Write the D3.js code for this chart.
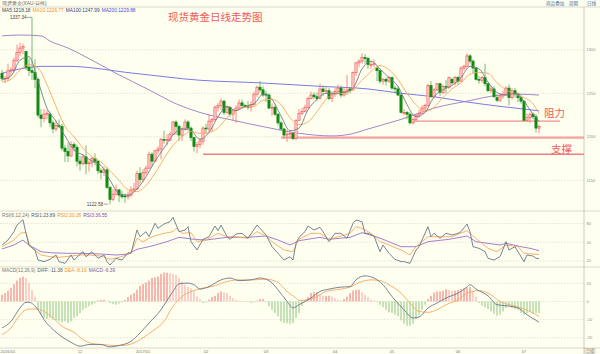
<!DOCTYPE html>
<html>
<head>
<meta charset="utf-8">
<script src="https://cdn.jsdelivr.net/npm/d3@7"></script>
<style>
  html, body { margin: 0; padding: 0; background: #fffff0; }
  svg { display: block; font-family: "Liberation Sans", Arial, sans-serif; }
</style>
</head>
<body>
<svg id="chart" width="600" height="354"></svg>
<script>
// daily candles, 2016-10-26 .. 2017-07-10 (index = trading day)
const openP = [1273,1267,1267,1276,1277,1288,1297,1302,1298,1280,1276,1274,1266,1225,1221,1226,1226,1216,1209,1213,
  1212,1187,1183,1178,1191,1188,1172,1169,1177,1169,1170,1175,1172,1161,1159,1162,1142,1128,1134,1139,
  1133,1132,1131,1133,1139,1140,1158,1151,1159,1164,1180,1172,1184,1186,1197,1196,1196,1203,1217,1212,
  1202,1209,1217,1210,1199,1189,1191,1195,1210,1209,1218,1220,1234,1236,1241,1228,1234,1226,1230,1233,
  1239,1236,1235,1234,1237,1249,1257,1254,1249,1248,1233,1234,1226,1216,1209,1202,1203,1204,1198,1219,
  1227,1229,1234,1244,1248,1246,1244,1255,1252,1253,1244,1249,1252,1256,1248,1252,1255,1254,1274,1285,
  1287,1291,1290,1283,1283,1279,1276,1264,1266,1264,1268,1256,1255,1248,1228,1228,1226,1216,1220,1225,
  1227,1233,1236,1259,1246,1254,1261,1251,1258,1257,1266,1262,1268,1264,1279,1281,1293,1287,1279,1266,
  1265,1268,1261,1253,1255,1245,1242,1247,1249,1256,1245,1253,1249,1245,1241,1219,1222,1226,1223,1210];
const highP = [1277,1270,1284,1280,1291,1306,1308,1307,1299,1290,1337.34,1289,1268,1232,1232,1231,1229,1219,1219,1220,
  1215,1191,1193,1195,1194,1191,1178,1180,1190,1173,1177,1181,1173,1164,1166,1165,1143,1140,1145,1140,
  1138,1135,1137,1143,1147,1161,1165,1163,1167,1183,1182,1185,1189,1199,1207,1203,1206,1218,1219,1214,
  1211,1220,1219,1212,1200,1194,1199,1212,1215,1226,1222,1236,1239,1244,1242,1236,1235,1232,1236,1243,
  1243,1238,1241,1241,1252,1259,1264,1258,1253,1250,1238,1237,1227,1218,1210,1208,1206,1205,1220,1232,
  1233,1237,1246,1252,1251,1251,1261,1259,1257,1256,1252,1256,1260,1259,1257,1271,1257,1275,1286,1289,
  1296,1295,1292,1287,1289,1280,1277,1268,1268,1270,1269,1259,1258,1249,1232,1230,1228,1222,1226,1231,
  1236,1238,1261,1264,1256,1262,1262,1260,1265,1269,1268,1270,1270,1281,1283,1296,1295,1289,1280,1270,
  1270,1284,1262,1258,1258,1249,1250,1253,1258,1260,1256,1256,1251,1248,1242,1227,1228,1228,1226,1214];
const lowP = [1264,1262,1264,1270,1274,1286,1293,1295,1277,1270,1265,1256,1222,1211,1217,1220,1211,1204,1206,1210,
  1184,1171,1171,1177,1183,1166,1161,1167,1157,1160,1165,1167,1157,1151,1155,1140,1122.58,1126,1133,1125,
  1129,1124,1128,1131,1136,1139,1145,1148,1156,1163,1166,1171,1180,1174,1192,1190,1195,1202,1202,1195,
  1195,1207,1209,1195,1183,1181,1187,1191,1203,1206,1206,1218,1229,1231,1225,1226,1223,1219,1216,1232,
  1233,1233,1231,1229,1236,1246,1251,1246,1240,1232,1224,1224,1213,1208,1199,1194,1199,1196,1196,1218,
  1225,1228,1232,1243,1243,1241,1243,1247,1249,1242,1240,1246,1251,1245,1246,1248,1250,1253,1270,1280,
  1284,1284,1278,1278,1280,1264,1261,1260,1259,1262,1254,1250,1247,1227,1225,1220,1214,1214,1218,1222,
  1226,1228,1235,1245,1244,1252,1247,1249,1250,1255,1260,1259,1260,1263,1276,1280,1284,1273,1265,1261,
  1262,1258,1251,1250,1245,1240,1240,1244,1247,1236,1243,1245,1240,1238,1218,1218,1216,1220,1205,1204];
const closeP = [1267,1267,1276,1277,1288,1297,1302,1304,1280,1276,1274,1266,1225,1221,1226,1227,1216,1209,1213,1212,
  1187,1183,1178,1191,1188,1172,1169,1177,1169,1170,1175,1172,1161,1159,1162,1142,1128,1134,1139,1133,
  1131,1131,1133,1139,1140,1158,1151,1159,1164,1180,1172,1184,1186,1197,1196,1197,1203,1217,1212,1202,
  1209,1217,1210,1199,1189,1191,1195,1210,1209,1218,1220,1234,1236,1241,1228,1234,1226,1230,1233,1239,
  1236,1235,1234,1237,1249,1257,1254,1248,1248,1233,1234,1226,1216,1209,1202,1203,1204,1198,1219,1227,
  1229,1234,1244,1248,1246,1244,1255,1252,1253,1244,1249,1252,1256,1248,1252,1254,1253,1274,1285,1287,
  1291,1290,1283,1283,1284,1276,1264,1266,1264,1268,1256,1255,1248,1228,1228,1226,1216,1220,1225,1227,
  1233,1236,1259,1246,1254,1261,1251,1258,1257,1268,1262,1268,1264,1279,1281,1293,1287,1279,1266,1265,
  1268,1261,1253,1255,1246,1242,1247,1249,1256,1245,1253,1249,1245,1241,1219,1222,1226,1223,1210,1212];

// moving averages: [day index, price]
const ma5 = [[0,1266],[3,1270],[6,1288],[9,1292],[12,1264],[15,1233],[18,1218],[21,1201],[24,1185],[27,1179],
  [30,1172],[33,1167],[36,1150],[39,1135],[42,1133],[45,1140],[48,1154],[51,1172],[54,1187],[57,1202],
  [60,1209],[63,1207],[66,1197],[69,1205],[72,1223],[75,1235],[78,1230],[81,1235],[84,1238],[87,1249],
  [90,1243],[93,1224],[96,1207],[99,1210],[102,1231],[105,1243],[108,1250],[111,1250],[114,1251],[117,1256],
  [120,1278],[123,1287],[126,1278],[129,1268],[132,1258],[135,1237],[138,1223],[141,1228],[144,1246],[147,1254],
  [150,1259],[153,1268],[156,1281],[159,1278],[162,1263],[165,1251],[168,1248],[171,1250],[174,1241],[177,1226],[179,1218.18]];
const ma10 = [[0,1263],[3,1266],[6,1277],[9,1283],[12,1279],[15,1260],[18,1235],[21,1212],[24,1200],[27,1187],
  [30,1177],[33,1171],[36,1161],[39,1150],[42,1139],[45,1137],[48,1144],[51,1158],[54,1175],[57,1190],
  [60,1200],[63,1206],[66,1204],[69,1205],[72,1210],[75,1222],[78,1230],[81,1234],[84,1235],[87,1242],
  [90,1243],[93,1237],[96,1222],[99,1214],[102,1217],[105,1229],[108,1243],[111,1249],[114,1250],[117,1254],
  [120,1265],[123,1275],[126,1282],[129,1277],[132,1266],[135,1250],[138,1237],[141,1229],[144,1234],[147,1245],
  [150,1255],[153,1262],[156,1272],[159,1274],[162,1273],[165,1262],[168,1254],[171,1249],[174,1245],[177,1238],[179,1226.77]];
const ma100 = [[0,1316],[6,1317],[13,1316],[16,1310],[22,1302],[30,1288],[38,1273],[49,1254],[58,1238],[66,1228],
  [77,1219],[88,1211],[99,1204],[110,1201],[116,1203],[122,1209],[133,1220],[144,1233],[155,1241],[166,1248],[172,1249],[179,1247.99]];
const ma200 = [[0,1273],[6,1278],[13,1281],[22,1281],[44,1273],[66,1265],[86,1262],[106,1258],[122,1255],
  [133,1250],[144,1246],[155,1240],[166,1235],[179,1229.88]];

// RSI(6,12,24): [day index, value]
const rsi1 = [[0,45.6],[2,53.6],[4,67],[5,77.6],[7,86],[8,64],[9,45],[11,37.6],[12,21.6],[14,19],[16,22.7],[18,29.6],
  [19,19],[21,16.3],[23,29.6],[24,21.6],[27,34.9],[28,26.9],[30,34.9],[32,24.3],[34,29.6],[35,19],[36,13.6],[38,24.3],
  [40,21.6],[42,33.3],[43,32.3],[45,69.6],[46,58.9],[48,66.9],[49,58.9],[51,80.3],[52,72.3],[54,79.2],[56,82.9],[57,89.9],
  [59,66.9],[61,69.6],[62,74.9],[63,50.9],[65,37.6],[67,54.7],[69,58.9],[71,76],[72,68.5],[73,77.6],[75,58.9],[76,54.7],
  [78,63.2],[80,64.3],[82,56.3],[85,77.6],[86,72.3],[88,61.6],[90,42.9],[92,32.3],[94,21.6],[96,26.9],[97,21.6],[98,48.3],
  [99,58],[101,67],[102,76],[104,69.6],[106,73.9],[107,67],[109,50.9],[111,64.3],[113,64.3],[115,56.3],[117,80.3],[118,85.6],
  [120,82.9],[121,64.3],[122,64.3],[124,60],[126,34.9],[127,45.6],[129,32.3],[131,22.7],[133,19],[134,19],[136,16.3],[138,37.6],
  [139,42.9],[142,74.9],[143,58.9],[144,64.3],[146,56.3],[148,64.3],[150,61.6],[152,64.3],[153,67],[155,79.2],[156,67],[157,42.9],
  [159,40.3],[161,34.9],[162,24.3],[164,21.6],[166,26.9],[168,50.9],[169,37.6],[171,42.9],[174,19],[175,29.6],[177,28],[178,24.3],[179,23.89]];
const rsi2 = [[0,42.9],[4,53.6],[6,64.3],[8,66],[9,48.3],[10,40.3],[13,29.6],[16,26.9],[19,25.9],[23,28],[26,29.6],[29,29.6],
  [33,28],[36,22.7],[39,25.9],[43,32.3],[45,56.3],[47,50.9],[50,58.9],[54,64.3],[57,67],[58,72.3],[60,64.3],[63,65.3],
  [65,50.9],[68,53.6],[72,64.3],[75,58.9],[78,58.9],[82,56.3],[85,67],[88,60],[90,50.9],[94,37.6],[97,34.9],[99,55],
  [103,64.3],[106,64.3],[109,54.7],[113,60],[116,64.3],[118,74.9],[120,72.3],[123,64.3],[126,50.9],[129,45.6],[133,37.6],
  [136,29.6],[138,42.9],[142,58.9],[146,58.9],[150,58.9],[155,68.5],[158,56.3],[162,40.3],[165,34.9],[168,45.6],[172,42.9],
  [174,32.3],[179,30.36]];
const rsi3 = [[0,39.2],[4,45.6],[7,53.6],[8,49.3],[10,42.9],[13,34.9],[16,33.3],[22,32.3],[27,32.3],[33,31.2],[38,29.6],
  [42,31.2],[45,38.7],[49,42.9],[55,50.9],[59,57.9],[64,54.7],[68,53.6],[75,57.9],[82,57.9],[88,60],[92,53.6],[96,45.6],
  [99,52.5],[106,57.9],[109,54.7],[116,57.9],[120,65.3],[124,60],[127,54.7],[133,42.9],[138,42.9],[142,50.9],[149,54.7],
  [155,60],[158,50.9],[166,45.6],[168,48.3],[173,42.9],[176,40.3],[179,36.55]];

// MACD(12,26,9)
const diffLine = [[0,-14.6],[3,-11],[6,-3.6],[8,-0.5],[9,-0.5],[12,-4.6],[14,-10],[17,-15.5],[19,-18.3],[23,-22.5],[26,-24.7],
  [29,-23.8],[33,-23.8],[36,-25.1],[39,-24.3],[43,-22],[46,-17.4],[49,-11.9],[53,-4.6],[55,0.5],[57,5.5],[59,9.7],[62,10.1],
  [64,9.2],[66,6.8],[69,8.2],[73,11.9],[76,12.9],[79,11.5],[83,11.9],[86,12.9],[89,11.5],[92,6.4],[95,0],[97,-3.6],[99,-1.8],
  [103,1.9],[106,5.5],[109,6.8],[113,7.9],[116,8.2],[118,11.9],[121,14.1],[124,12.9],[127,9.2],[130,2.7],[134,-4.6],[137,-9.1],
  [139,-8.6],[142,-3.6],[145,-0.9],[148,1.9],[152,4.6],[155,7.9],[156,9.2],[158,6.8],[162,3.1],[165,-1.8],[168,-2.4],[172,-3.6],
  [175,-7.3],[179,-11.38]];
const deaLine = [[0,-18.3],[3,-14.6],[6,-7.3],[9,-4.2],[12,-4.2],[14,-5.5],[17,-9.1],[20,-13.7],[24,-17],[27,-21],[30,-23.2],
  [34,-23.8],[37,-24.3],[40,-24.3],[44,-22.9],[47,-20.1],[50,-16.5],[54,-11],[57,-2.7],[60,2.7],[64,6],[67,7.4],[70,8.2],[75,11],
  [79,11.9],[84,11.9],[88,12.3],[92,10.4],[95,5.5],[98,1.9],[99,0.5],[104,1.9],[108,5.5],[113,6.8],[116,7.9],[119,10.4],[123,11.9],
  [126,11.5],[129,9.2],[133,4.6],[136,-0.9],[139,-5.5],[142,-6],[145,-4.6],[148,-1.8],[152,0.9],[155,4.6],[157,5.5],[159,6],
  [163,3.7],[166,0],[169,-1.8],[173,-3.6],[176,-5.5],[179,-8.19]];
const macdHist = [3.7,4.6,6.0,7.5,9.5,11.5,13.0,13.7,12.9,10.1,6.4,2.7,-4.6,-7.3,-9.1,-9.7,-9.1,-10.0,-10.4,-11.0,
  -11.5,-11.0,-11.9,-11.0,-9.1,-8.2,-6.4,-4.6,-3.6,-2.7,-1.8,-0.9,0.5,0.9,0.9,0.3,-0.9,-1.5,-1.8,-1.2,
  -0.5,0.8,2.4,3.7,4.6,6.4,8.6,9.7,10.4,11.5,12.9,13.3,13.7,15.2,15.9,15.9,15.6,15.2,14.6,12.9,
  11.0,9.2,8.0,7.3,5.5,2.7,1.3,-0.9,-0.5,1.0,2.4,3.1,4.6,5.5,5.0,4.6,3.1,1.8,0.9,0.5,
  0.3,0.2,-0.3,-0.9,-0.5,0.5,1.3,1.3,-0.5,-2.7,-4.6,-6.4,-8.2,-11.0,-11.9,-12.1,-12.3,-11.9,-9.1,-6.4,
  -2.5,0.5,2.4,4.6,5.1,5.1,3.7,3.1,3.1,3.1,2.7,1.8,0.9,0.5,1.3,2.7,4.6,6.0,6.4,6.4,
  5.0,3.7,2.4,0.9,0.5,-0.5,-1.8,-3.1,-4.6,-6.0,-6.4,-7.3,-8.2,-10.4,-12.3,-13.4,-13.4,-12.3,-9.7,-7.3,
  -4.6,-1.8,1.3,3.1,4.9,5.5,5.5,6.0,6.8,6.4,6.0,6.0,6.4,6.8,7.3,7.3,7.9,5.5,2.7,-0.9,
  -2.4,-3.3,-4.2,-5.5,-6.8,-7.9,-7.3,-5.5,-3.6,-2.7,-3.6,-4.2,-4.6,-6.4,-7.3,-6.4,-6.0,-6.8,-6.4,-6.39];

// axis ticks
const monthIdx = [0,26,47,68,88,111,130,152,174];
const monthLabels = ["2016/10","12","2017/01","02","03","04","05","06","07"];
const priceTicks = [1150,1200,1250,1300];
const rsiTicks = [20,50,80];
const macdTicks = [-20,-10,0,10];

// hand-drawn levels: price, first day, last day
const levelPrice = [1218, 1199, 1180];
const levelFrom = [137, 93, 67];
const levelTo = [186, 194, 195.3];

const svg = d3.select("#chart");
const W = 600, H = 354, plotR = 584;

svg.append("rect").attr("width", W).attr("height", H).attr("fill", "#fffff0");

const x = d3.scaleLinear().domain([0, 179]).range([2, 539]);
const yP = d3.scaleLinear().domain([1150, 1300]).range([180.3, 49.8]);
const yR = d3.scaleLinear().domain([20, 80]).range([261, 223.5]);
const yM = d3.scaleLinear().domain([-20, 10]).range([337.7, 283.3]);

// grid
function grid(ticks, scale, label) {
  ticks.forEach(t => {
    svg.append("line").attr("x1", 0).attr("x2", plotR)
      .attr("y1", scale(t)).attr("y2", scale(t))
      .attr("stroke", "#d8d8cc").attr("stroke-width", 0.7).attr("stroke-dasharray", "1.5,1.5");
    svg.append("text").attr("x", plotR + 2.5).attr("y", scale(t) + 1.4)
      .attr("font-size", 4).attr("fill", "#8a8a8a").text(label ? label(t) : t);
  });
}
grid(priceTicks, yP);
grid(rsiTicks, yR);
grid(macdTicks, yM);

// frame
[7, 211, 267, 348].forEach(yy => {
  svg.append("line").attr("x1", 0).attr("x2", W).attr("y1", yy).attr("y2", yy)
    .attr("stroke", "#cfcfc4").attr("stroke-width", 0.8);
});
svg.append("line").attr("x1", plotR).attr("x2", plotR).attr("y1", 7).attr("y2", H)
  .attr("stroke", "#bdbdb4").attr("stroke-width", 0.8);

// clip for price panel
svg.append("clipPath").attr("id", "pclip").append("rect")
  .attr("x", 0).attr("y", 7).attr("width", plotR).attr("height", 204);
const gP = svg.append("g").attr("clip-path", "url(#pclip)");

// level lines
const levelColor = ["#f28c8c", "#f5a4a4", "#f08080"];
const levelWidth = [1.4, 2.2, 1.5];
levelPrice.forEach((p, k) => {
  gP.append("line").attr("x1", x(levelFrom[k])).attr("x2", x(levelTo[k]))
    .attr("y1", yP(p)).attr("y2", yP(p))
    .attr("stroke", levelColor[k]).attr("stroke-width", levelWidth[k]);
});

// moving averages
const lineP = d3.line().x(d => x(d[0])).y(d => yP(d[1]));
const lineSmooth = d3.line().x(d => x(d[0])).y(d => yP(d[1])).curve(d3.curveMonotoneX);
gP.append("path").attr("d", lineSmooth(ma200)).attr("fill", "none").attr("stroke", "#6a6ae6").attr("stroke-width", 0.9);
gP.append("path").attr("d", lineSmooth(ma100)).attr("fill", "none").attr("stroke", "#9a78c4").attr("stroke-width", 0.9);

// candles
closeP.forEach((c, i) => {
  const o = openP[i], up = c >= o;
  gP.append("line").attr("x1", x(i)).attr("x2", x(i))
    .attr("y1", yP(highP[i])).attr("y2", yP(lowP[i]))
    .attr("stroke", up ? "#f36f6f" : "#58a858").attr("stroke-width", 0.8);
  const top = yP(Math.max(o, c)), h = Math.max(0.7, Math.abs(yP(o) - yP(c)));
  gP.append("rect").attr("x", x(i) - 1.1).attr("y", top).attr("width", 2.2).attr("height", h)
    .attr("fill", up ? "#ffd6d6" : "#128a12")
    .attr("stroke", up ? "#f25a5a" : "#128a12").attr("stroke-width", 0.7);
});

gP.append("path").attr("d", d3.line().x(d => x(d[0])).y(d => yP(d[1])).curve(d3.curveMonotoneX)(ma10))
  .attr("fill", "none").attr("stroke", "#f6a860").attr("stroke-width", 0.9);
gP.append("path").attr("d", d3.line().x(d => x(d[0])).y(d => yP(d[1])).curve(d3.curveMonotoneX)(ma5))
  .attr("fill", "none").attr("stroke", "#6e7a86").attr("stroke-width", 0.9);

// high / low marks
const hiI = highP.indexOf(d3.max(highP)), loI = lowP.indexOf(d3.min(lowP));
svg.append("text").attr("x", x(hiI) - 5.5).attr("y", yP(highP[hiI]) + 1.5).attr("text-anchor", "end")
  .attr("font-size", 4.6).attr("fill", "#444").text(d3.format(".2f")(highP[hiI]));
svg.append("line").attr("x1", x(hiI) - 5).attr("x2", x(hiI)).attr("y1", yP(highP[hiI]))
  .attr("y2", yP(highP[hiI])).attr("stroke", "#666").attr("stroke-width", 0.6);
svg.append("text").attr("x", x(loI) - 7).attr("y", yP(lowP[loI]) + 1.5).attr("text-anchor", "end")
  .attr("font-size", 4.6).attr("fill", "#444").text(d3.format(".2f")(lowP[loI]));
svg.append("line").attr("x1", x(loI) - 6.5).attr("x2", x(loI) - 2).attr("y1", yP(lowP[loI]))
  .attr("y2", yP(lowP[loI])).attr("stroke", "#666").attr("stroke-width", 0.6);

// RSI panel
const lineR = d3.line().x(d => x(d[0])).y(d => yR(d[1]));
[[rsi3, "#9a70c8"], [rsi2, "#f6a860"], [rsi1, "#66788a"]].forEach(([s, col]) => {
  svg.append("path").attr("d", lineR(s)).attr("fill", "none").attr("stroke", col).attr("stroke-width", 0.9);
});

// MACD panel
macdHist.forEach((v, i) => {
  const prev = i > 0 ? macdHist[i - 1] : v;
  const col = v >= 0 ? (v >= prev ? "#f06c6c" : "#f5a2a2") : "#8cc47e";
  svg.append("line").attr("x1", x(i)).attr("x2", x(i)).attr("y1", yM(0)).attr("y2", yM(v))
    .attr("stroke", col).attr("stroke-width", 1);
});
const lineM = d3.line().x(d => x(d[0])).y(d => yM(d[1])).curve(d3.curveMonotoneX);
svg.append("path").attr("d", lineM(deaLine)).attr("fill", "none").attr("stroke", "#f6a860").attr("stroke-width", 0.9);
svg.append("path").attr("d", lineM(diffLine)).attr("fill", "none").attr("stroke", "#66788a").attr("stroke-width", 0.9);

// month labels
monthIdx.forEach((m, k) => {
  svg.append("text").attr("x", k === 0 ? 0.5 : x(m)).attr("y", 352.5)
    .attr("text-anchor", k === 0 ? "start" : "middle")
    .attr("font-size", 4).attr("fill", "#777").text(monthLabels[k]);
});

// legends
function legend(y, items) {
  let cx = 2;
  items.forEach(([t, col]) => {
    const el = svg.append("text").attr("x", cx).attr("y", y).attr("font-size", 4.8).attr("fill", col).text(t);
    cx += el.node().getComputedTextLength() + 2;
  });
}
legend(4.5, [["现货黄金(XAU-日线)", "#666"]]);
legend(12, [["MA5:1218.18", "#444"], ["MA10:1226.77", "#f0902e"], ["MA100:1247.99", "#3a3a78"], ["MA200:1229.88", "#4a4ad8"]]);
legend(216.5, [["RSI(6,12,24)", "#777"], ["RSI1:23.89", "#4e5e70"], ["RSI2:30.36", "#f0902e"], ["RSI3:36.55", "#7a4ab0"]]);
legend(272, [["MACD(12,26,9)", "#777"], ["DIFF:-11.38", "#4e5e70"], ["DEA:-8.19", "#f0902e"], ["MACD:-6.39", "#7a5a98"]]);

// top-right buttons
[["商品叠加", 546], ["周期", 569], ["日线", 587]].forEach(([t, bx]) => {
  svg.append("text").attr("x", bx).attr("y", 4.8).attr("font-size", 4.6)
    .attr("font-family", "Noto Sans CJK SC").attr("fill", "#4a6fa0").text(t);
});
svg.append("rect").attr("x", 585).attr("y", 348.5).attr("width", 10).attr("height", 5)
  .attr("fill", "none").attr("stroke", "#aaa").attr("stroke-width", 0.5);
svg.append("text").attr("x", 586).attr("y", 352.5).attr("font-size", 4)
  .attr("font-family", "Noto Sans CJK SC").attr("fill", "#666").text("日线");

// annotations
const cjk = "'Noto Sans CJK SC', sans-serif";
svg.append("text").attr("x", 168).attr("y", 20.5).attr("font-size", 10.5).attr("font-family", cjk)
  .attr("fill", "#f05a5a").text("现货黄金日线走势图");
svg.append("text").attr("x", 544).attr("y", 117).attr("font-size", 10.5).attr("font-family", cjk)
  .attr("fill", "#f05a5a").text("阻力");
svg.append("text").attr("x", 551).attr("y", 152.5).attr("font-size", 10.5).attr("font-family", cjk)
  .attr("fill", "#f05a5a").text("支撑");
</script>
</body>
</html>
